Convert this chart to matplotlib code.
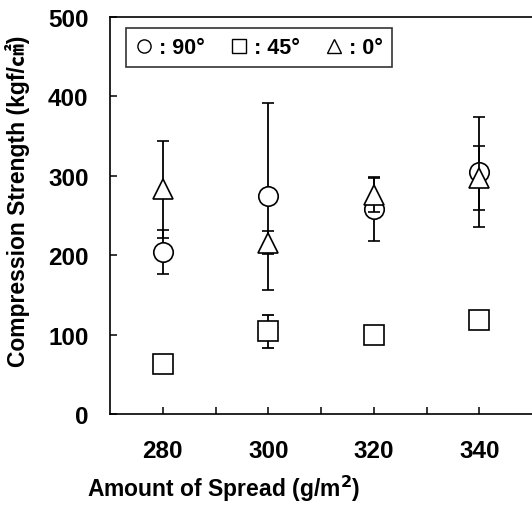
import matplotlib
matplotlib.use("Agg")
import matplotlib.pyplot as plt
from matplotlib.lines import Line2D

spread = [280, 300, 320, 340]
s90 = [204, 274, 258, 305]
e90 = [28, 118, 40, 69]
s45 = [63, 104, 99, 119]
e45 = [0, 21, 0, 0]
s0 = [283, 216, 276, 297]
e0 = [61, 15, 21, 40]
labels = [": 90°", ": 45°", ": 0°"]

plt.rcParams['font.family'] = ['Liberation Sans', 'Noto Sans CJK SC', 'DejaVu Sans']

fig = plt.figure(figsize=(5.32, 5.06), dpi=100)
ax = fig.add_axes([0.2068, 0.1798, 0.7932, 0.7846])

common = dict(color='black', ecolor='black', elinewidth=1.3, capsize=4.5,
              capthick=1.3, linestyle='none', markersize=14,
              markerfacecolor='white', markeredgecolor='black', markeredgewidth=1.2)

ax.errorbar(spread, s90, yerr=e90, marker='o', zorder=3, **common)
ax.errorbar(spread, s0, yerr=e0, marker='^', zorder=4, **common)
idx = [i for i in range(len(spread)) if e45[i] > 0]
ax.errorbar([spread[i] for i in idx], [s45[i] for i in idx],
            yerr=[e45[i] for i in idx],
            marker='none', color='black', elinewidth=1.3, capsize=4.5, capthick=1.3,
            linestyle='none', zorder=3)
ax.plot(spread, s45, marker='s', linestyle='none', markersize=14,
        markerfacecolor='white', markeredgecolor='black', markeredgewidth=1.2, zorder=5)

ax.set_xlim(270, 350)
ax.set_ylim(0, 500)
ax.set_xticks(spread)
ax.set_xticks([290, 310, 330], minor=True)
ax.set_yticks([0, 100, 200, 300, 400, 500])
ax.tick_params(axis='both', which='both', direction='in', length=5, width=1.1,
               labelsize=17.5)
ax.tick_params(axis='x', pad=18)
ax.tick_params(axis='y', pad=15.5)
for lab in ax.get_xticklabels() + ax.get_yticklabels():
    lab.set_fontweight('bold')
ax.spines['right'].set_visible(False)
for s in ['left', 'bottom', 'top']:
    ax.spines[s].set_linewidth(1.2)

ax.set_xlabel("Amount of Spread (g/m$^\\mathbf{2}$)", fontsize=16.5, fontweight='bold')
ax.set_ylabel("Compression Strength (kgf/㎠)", fontsize=16.5, fontweight='bold')
ax.xaxis.set_label_coords(0.27, -0.148)
ax.yaxis.set_label_coords(-0.19, 0.539)

mk = dict(linestyle='none', markersize=9.5, markerfacecolor='white',
          markeredgecolor='black', markeredgewidth=1.0, color='black')
handles = [Line2D([], [], marker='o', **mk),
           Line2D([], [], marker='s', **mk),
           Line2D([], [], marker='^', **mk)]
leg = ax.legend(handles, labels, ncol=3, loc='upper left', bbox_to_anchor=(0.038, 0.972),
                frameon=True, fancybox=False, edgecolor='black', handlelength=0.8,
                handletextpad=0.3, columnspacing=1.2, borderpad=0.42,
                borderaxespad=0.0,
                prop={'weight': 'bold', 'size': 15.5})
leg.get_frame().set_linewidth(1.2)

fig.savefig("out.png", dpi=100)
